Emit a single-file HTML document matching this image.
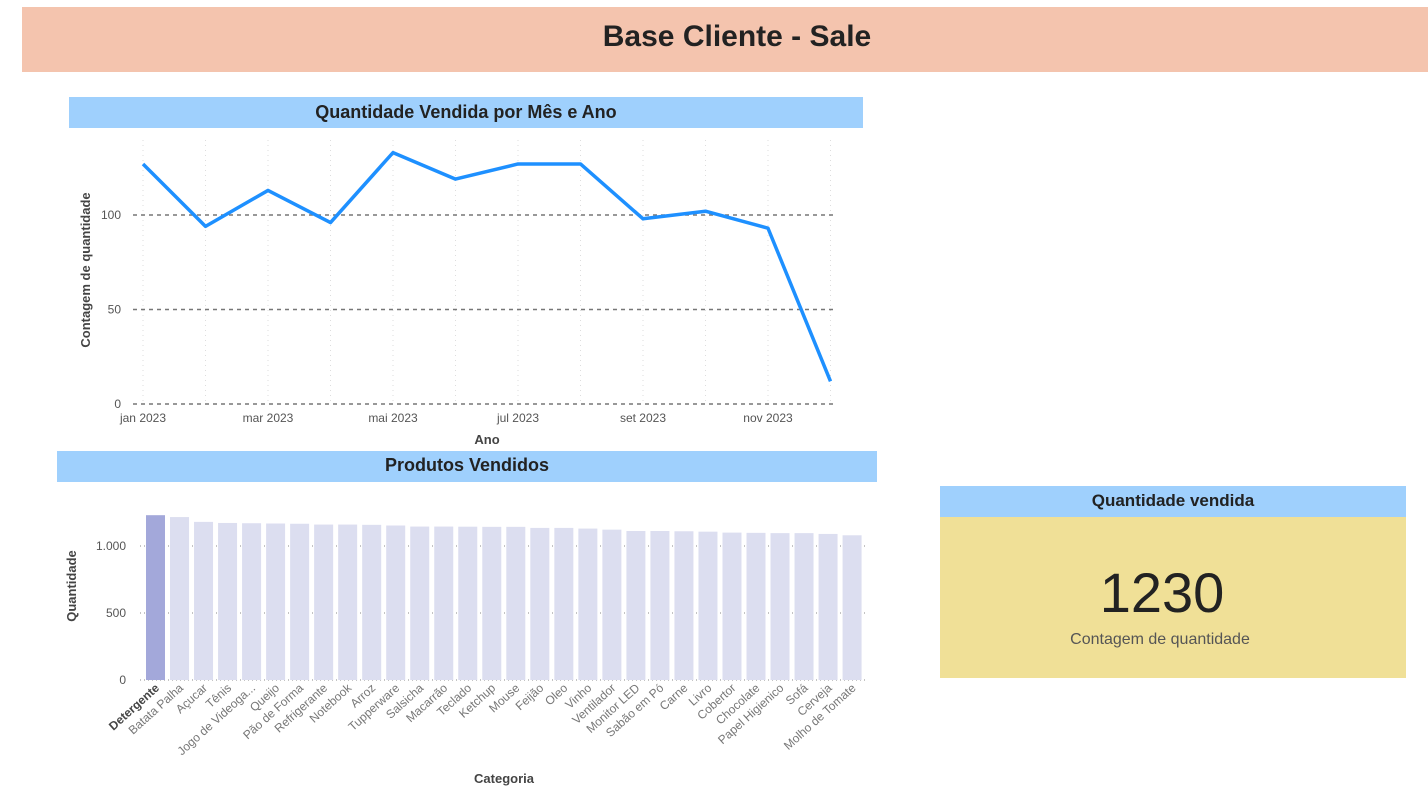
<!DOCTYPE html>
<html><head><meta charset="utf-8"><style>
html,body{margin:0;padding:0;background:#fff;width:1428px;height:793px;overflow:hidden;font-family:"Liberation Sans",sans-serif}
svg text{font-family:"Liberation Sans",sans-serif}
</style></head><body>
<svg id="root" width="1428" height="793" xmlns="http://www.w3.org/2000/svg">
<rect x="22" y="7" width="1406" height="65" fill="#f4c4ae"/>
<text x="737" y="46" text-anchor="middle" font-size="30" font-weight="bold" fill="#222">Base Cliente - Sale</text>

<rect x="69" y="97" width="794" height="31" fill="#9fd0fd"/>
<text x="466" y="118" text-anchor="middle" font-size="18" font-weight="bold" fill="#222">Quantidade Vendida por Mês e Ano</text>
<g id="line-chart"></g>
<text transform="translate(90,270) rotate(-90)" text-anchor="middle" font-size="13" font-weight="bold" fill="#444">Contagem de quantidade</text>
<text x="487" y="444" text-anchor="middle" font-size="13" font-weight="bold" fill="#444">Ano</text>

<rect x="57" y="451" width="820" height="31" fill="#9fd0fd"/>
<text x="467" y="471" text-anchor="middle" font-size="18" font-weight="bold" fill="#222">Produtos Vendidos</text>
<g id="bar-chart"></g>
<text transform="translate(76,586) rotate(-90)" text-anchor="middle" font-size="13" font-weight="bold" fill="#444">Quantidade</text>
<text x="504" y="783" text-anchor="middle" font-size="13" font-weight="bold" fill="#444">Categoria</text>

<rect x="940" y="486" width="466" height="31" fill="#9fd0fd"/>
<text x="1173" y="506" text-anchor="middle" font-size="17" font-weight="bold" fill="#222">Quantidade vendida</text>
<rect x="940" y="517" width="466" height="161" fill="#f0e097"/>
<text x="1162" y="612" text-anchor="middle" font-size="56" fill="#222">1230</text>
<text x="1160" y="644" text-anchor="middle" font-size="16" fill="#555">Contagem de quantidade</text>
</svg>
<script>
const months=["jan 2023","fev 2023","mar 2023","abr 2023","mai 2023","jun 2023","jul 2023","ago 2023","set 2023","out 2023","nov 2023","dez 2023"];
const monthValues=[127,94,113,96,133,119,127,127,98,102,93,12];
const lineTicks=[0,50,100];
const categories=["Detergente","Batata Palha","Açucar","Tênis","Jogo de Videoga...","Queijo","Pão de Forma","Refrigerante","Notebook","Arroz","Tupperware","Salsicha","Macarrão","Teclado","Ketchup","Mouse","Feijão","Oleo","Vinho","Ventilador","Monitor LED","Sabão em Pó","Carne","Livro","Cobertor","Chocolate","Papel Higienico","Sofá","Cerveja","Molho de Tomate"];
const quantities=[1230,1216,1180,1172,1170,1168,1166,1160,1160,1158,1153,1145,1145,1144,1143,1143,1135,1135,1130,1122,1112,1112,1110,1107,1100,1098,1096,1096,1090,1080];
const barTicks=[0,500,1000];
const barTickLabels=["0","500","1.000"];

const NS="http://www.w3.org/2000/svg";
function mk(tag,attrs,parent){const e=document.createElementNS(NS,tag);for(const k in attrs)e.setAttribute(k,attrs[k]);parent.appendChild(e);return e;}

const lg=document.getElementById('line-chart');
const lx=i=>143+i*62.5;
const ly=v=>404-v*1.89;
months.forEach((m,i)=>{
  const gl=mk('line',{x1:lx(i),x2:lx(i),y1:140,y2:404,stroke:'#ddd','stroke-dasharray':'1 4'},lg);
  
  
  if(i%2===0){
    const t=mk('text',{x:lx(i),y:422,'text-anchor':'middle','font-size':12,fill:'#555'},lg);
    t.textContent=m;
    
    
  }
});
lineTicks.forEach(v=>{
  const l=mk('line',{x1:133,x2:836,y1:ly(v),y2:ly(v),stroke:'#777','stroke-width':1.5,'stroke-dasharray':'4 4'},lg);
  
  
  const t=mk('text',{x:121,y:ly(v)+4,'text-anchor':'end','font-size':12,fill:'#555'},lg);
  t.textContent=v;
  
  
});
const path=mk('polyline',{points:monthValues.map((v,i)=>lx(i)+','+ly(v)).join(' '),fill:'none',stroke:'#1e90ff','stroke-width':3.5,'stroke-linejoin':'round'},lg);



const bg=document.getElementById('bar-chart');
const bx=i=>146+i*24.02;
const by=v=>680-v*0.134;
barTicks.forEach((v,k)=>{
  const l=mk('line',{x1:140,x2:868,y1:by(v),y2:by(v),stroke:'#888','stroke-dasharray':'1 3'},bg);
  
  
  const t=mk('text',{x:126,y:by(v)+4,'text-anchor':'end','font-size':12,fill:'#555'},bg);
  t.textContent=barTickLabels[k];
  
  
});
categories.forEach((c,i)=>{
  const r=mk('rect',{x:bx(i),y:by(quantities[i]),width:19,height:680-by(quantities[i]),fill:i===0?'#a3a8da':'#dcdef0'},bg);
  
  
  const cx=bx(i)+14;
  const t=mk('text',{x:cx,y:689,'text-anchor':'end','font-size':12,fill:i===0?'#444':'#777','font-weight':i===0?'bold':'normal',transform:'rotate(-42 '+cx+' 689)'},bg);
  t.textContent=c;
  
  
});
</script>
</body></html>
